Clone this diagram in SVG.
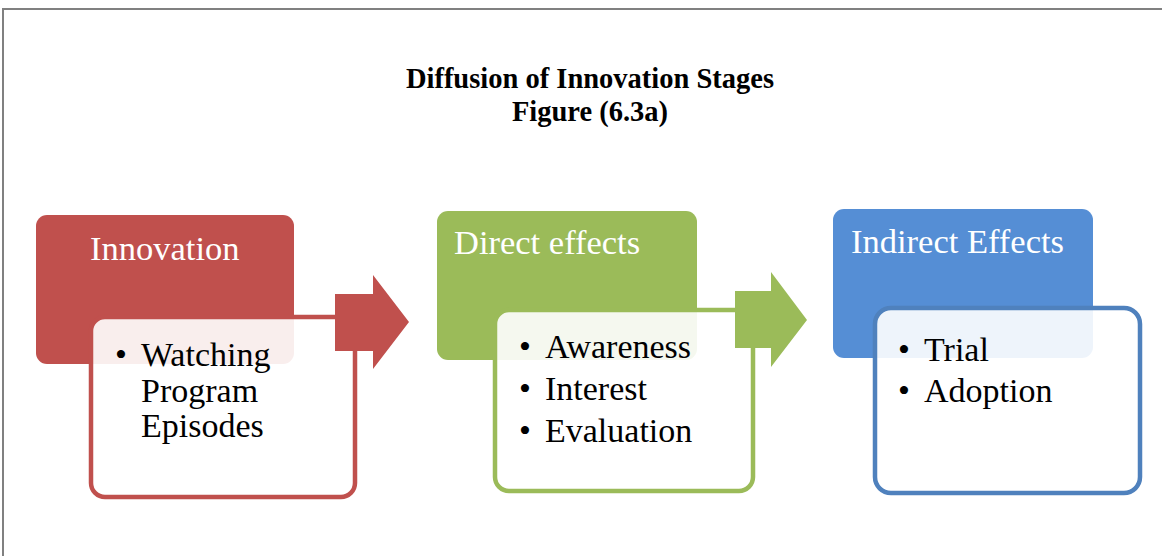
<svg xmlns="http://www.w3.org/2000/svg" width="1162" height="556" viewBox="0 0 1162 556">
  <style>
    .title { font-family: "Liberation Serif", "Times New Roman", serif; font-weight: bold; font-size: 28.5px; fill: #000; text-anchor: middle; }
    .head { font-family: "Liberation Serif", "Times New Roman", serif; font-size: 34.5px; fill: #fff; }
    .item { font-family: "Liberation Serif", "Times New Roman", serif; font-size: 34px; fill: #000; }
    .panel { fill: #fff; fill-opacity: 0.9; stroke-width: 4.5; }
  </style>
  <rect width="1162" height="556" fill="#fff"/>
  <!-- frame -->
  <path d="M3 556 V9 H1162" fill="none" stroke="#808080" stroke-width="2"/>

  <g id="title">
    <text class="title" x="590" y="88">Diffusion of Innovation Stages</text>
    <text class="title" x="590" y="121">Figure (6.3a)</text>
  </g>

  <!-- stage 1 -->
  <g id="innovation">
    <rect x="36" y="215" width="258" height="149" rx="11" fill="#C0504D"/>
    <text class="head" x="90" y="260">Innovation</text>
    <rect class="panel" x="91" y="317" width="264" height="180" rx="14" stroke="#C0504D"/>
    <text class="item" x="115" y="366">•</text>
    <text class="item" x="141" y="366">Watching</text>
    <text class="item" x="141" y="402">Program</text>
    <text class="item" x="141" y="437">Episodes</text>
  </g>

  <!-- stage 2 -->
  <g id="direct-effects">
    <rect x="437" y="211" width="260" height="149" rx="11" fill="#9BBB59"/>
    <text class="head" x="454" y="254">Direct effects</text>
    <rect class="panel" x="495" y="310" width="258" height="181" rx="14" stroke="#9BBB59"/>
    <text class="item" x="519" y="358">•</text>
    <text class="item" x="545" y="358">Awareness</text>
    <text class="item" x="519" y="400">•</text>
    <text class="item" x="545" y="400">Interest</text>
    <text class="item" x="519" y="442">•</text>
    <text class="item" x="545" y="442">Evaluation</text>
  </g>

  <!-- stage 3 -->
  <g id="indirect-effects">
    <rect x="833" y="209" width="260" height="149" rx="11" fill="#558ED5"/>
    <text class="head" x="851" y="253">Indirect Effects</text>
    <rect class="panel" x="875" y="308" width="265" height="185" rx="16" stroke="#4F81BD"/>
    <text class="item" x="898" y="361">•</text>
    <text class="item" x="924" y="361">Trial</text>
    <text class="item" x="898" y="402">•</text>
    <text class="item" x="924" y="402">Adoption</text>
  </g>

  <!-- connectors -->
  <g id="connectors">
    <polygon points="335,294 373,294 373,275 409,322 373,369 373,351 335,351" fill="#C0504D"/>
    <polygon points="735,291 771,291 771,272 807,320 771,367 771,348 735,348" fill="#9BBB59"/>
  </g>
</svg>
